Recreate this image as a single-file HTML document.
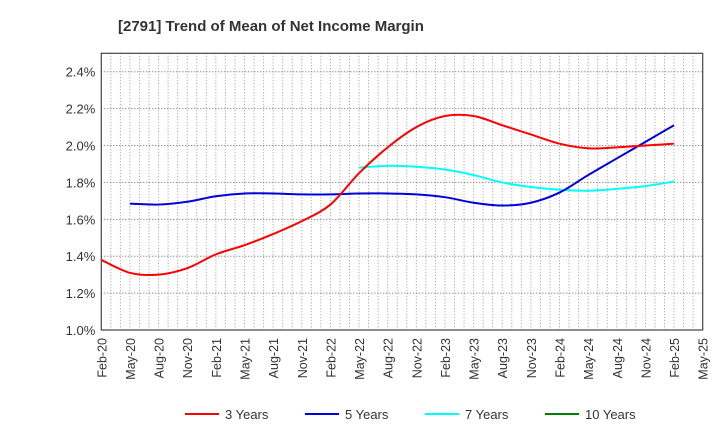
<!DOCTYPE html>
<html><head><meta charset="utf-8"><style>
body{margin:0;background:#fff;font-family:"Liberation Sans",sans-serif}
</style></head><body>
<svg width="720" height="440" xmlns="http://www.w3.org/2000/svg" font-family="Liberation Sans, sans-serif">
<text x="118" y="31" font-size="15" font-weight="bold" fill="#333">[2791]  Trend of Mean of Net Income Margin</text>
<g id="grid"></g><g id="axes"></g><g id="series"></g><g id="legend"></g>
</svg>
<script>
const months=["Feb","May","Aug","Nov"];
const yTicks=[1.0,1.2,1.4,1.6,1.8,2.0,2.2,2.4];
const y3=[1.38,1.31,1.30,1.335,1.41,1.46,1.52,1.59,1.68,1.85,1.99,2.10,2.16,2.16,2.11,2.06,2.01,1.985,1.99,2.00,2.01];
const y5=[null,1.685,1.68,1.695,1.725,1.74,1.74,1.735,1.735,1.74,1.74,1.735,1.72,1.69,1.675,1.69,1.745,1.84,1.93,2.02,2.11];
const y7=[null,null,null,null,null,null,null,null,null,1.88,1.89,1.885,1.87,1.84,1.80,1.775,1.76,1.755,1.765,1.78,1.805];
const y10=[];
const NS="http://www.w3.org/2000/svg";
const L=101.3,R=702.7,T=53.3,B=330,totalMonths=63;
const xM=m=>L+(R-L)*m/totalMonths;
const yV=v=>B-(v-1.0)/(2.5-1.0)*(B-T);
function mk(tag,attrs,parent){const e=document.createElementNS(NS,tag);for(const k in attrs)e.setAttribute(k,attrs[k]);parent.appendChild(e);return e;}
const grid=document.getElementById('grid'),axes=document.getElementById('axes'),ser=document.getElementById('series'),leg=document.getElementById('legend');
for(let m=1;m<totalMonths;m++){const l=mk('line',{x1:xM(m),x2:xM(m),y1:T,y2:B,stroke:'#999','stroke-dasharray':'1,2','stroke-width':1},grid);

}
yTicks.forEach(v=>{const l=mk('line',{x1:L,x2:R,y1:yV(v),y2:yV(v),stroke:'#666','stroke-dasharray':'1,2','stroke-width':1},grid);


const t=mk('text',{x:L-6,y:yV(v)+5,'text-anchor':'end','font-size':13,fill:'#333'},axes);t.textContent=v.toFixed(1)+'%';

});
const box=mk('rect',{x:L,y:T,width:R-L,height:B-T,fill:'none',stroke:'#444','stroke-width':1.2},axes);


for(let i=0;i<=21;i++){const x=xM(i*3);const yr=20+Math.floor(i/4);const lab=months[i%4]+'-'+yr;
const t=mk('text',{x:0,y:0,'text-anchor':'end','font-size':12.5,fill:'#333',transform:`translate(${x+5},${B+8}) rotate(-90)`},axes);t.textContent=lab;

}
function path(arr,color,name){const pts=[];arr.forEach((v,i)=>{if(v!=null)pts.push([xM(i*3),yV(v)]);});if(pts.length<2)return;
let d=`M${pts[0][0]},${pts[0][1]}`;for(let i=0;i<pts.length-1;i++){const p0=pts[i-1]||pts[i],p1=pts[i],p2=pts[i+1],p3=pts[i+2]||p2;
d+=` C${p1[0]+(p2[0]-p0[0])/6},${p1[1]+(p2[1]-p0[1])/6} ${p2[0]-(p3[0]-p1[0])/6},${p2[1]-(p3[1]-p1[1])/6} ${p2[0]},${p2[1]}`;}
const p=mk('path',{d:d,fill:'none',stroke:color,'stroke-width':2},ser);

}
path(y7,'#00ffff','line-7-years');path(y5,'#0000dd','line-5-years');path(y3,'#ff0000','line-3-years');path(y10,'#008000','line-10-years');
const legs=[['3 Years','#ff0000',185],['5 Years','#0000dd',305],['7 Years','#00ffff',425],['10 Years','#008000',545]];
legs.forEach(([n,c,x])=>{const g=mk('g',{},leg);

mk('line',{x1:x,x2:x+34,y1:414,y2:414,stroke:c,'stroke-width':2},g);
const t=mk('text',{x:x+40,y:419,'font-size':13,fill:'#333'},g);t.textContent=n;});
</script>
</body></html>
